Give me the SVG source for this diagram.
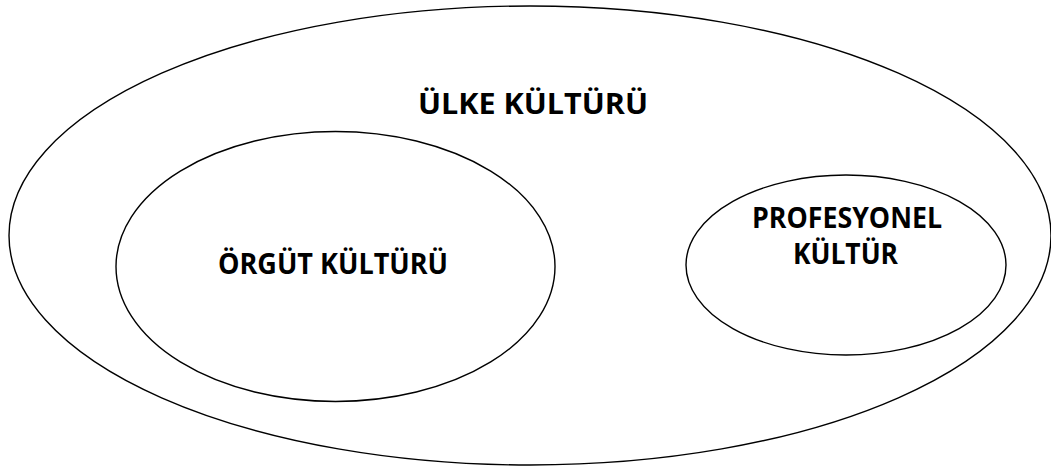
<svg xmlns="http://www.w3.org/2000/svg" width="1051" height="467" viewBox="0 0 1051 467">
<style>
.e{fill:none;stroke:#000;stroke-width:1.4}
.t{font-family:"Open Sans","Liberation Sans",sans-serif;font-weight:bold;font-size:29px;fill:#000;text-anchor:middle}
</style>
<rect width="1051" height="467" fill="#fff"/>
<g id="ulke">
<ellipse class="e" cx="530" cy="235.5" rx="521" ry="229.5"/>
<text class="t" x="533" y="114" textLength="230" lengthAdjust="spacingAndGlyphs">ÜLKE KÜLTÜRÜ</text>
</g>
<g id="orgut">
<ellipse class="e" cx="335.5" cy="266.5" rx="219.5" ry="135"/>
<text class="t" x="333" y="274" textLength="230" lengthAdjust="spacingAndGlyphs">ÖRGÜT KÜLTÜRÜ</text>
</g>
<g id="profesyonel">
<ellipse class="e" cx="846" cy="265" rx="160" ry="90"/>
<text class="t" x="847" y="228" textLength="190" lengthAdjust="spacingAndGlyphs">PROFESYONEL</text>
<text class="t" x="845.5" y="264" textLength="105" lengthAdjust="spacingAndGlyphs">KÜLTÜR</text>
</g>
<g id="connectors"/>
</svg>
